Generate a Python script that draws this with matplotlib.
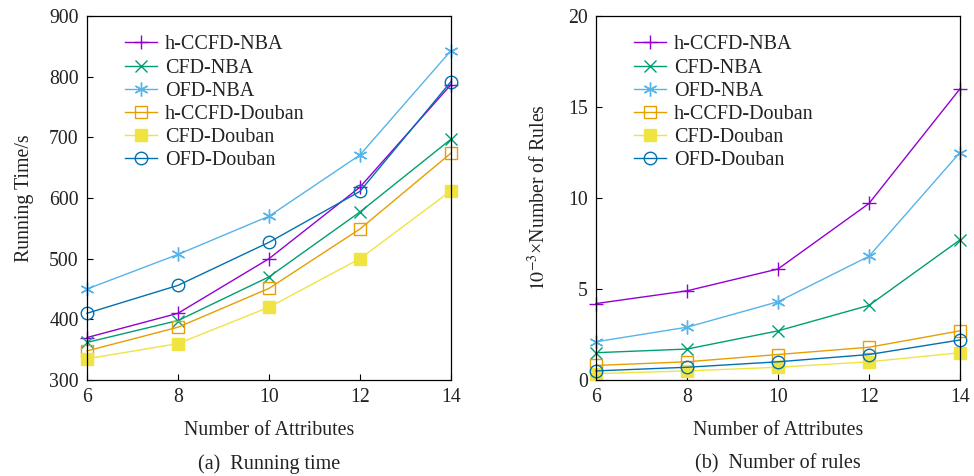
import matplotlib

matplotlib.use("Agg")
import matplotlib.pyplot as plt

plt.rcParams["font.family"] = ["Liberation Serif", "DejaVu Serif"]
plt.rcParams["mathtext.fontset"] = "stix"
plt.rcParams["text.color"] = "#222222"
plt.rcParams["axes.labelcolor"] = "#222222"
plt.rcParams["xtick.labelcolor"] = "#222222"
plt.rcParams["ytick.labelcolor"] = "#222222"

attributes = [6, 8, 10, 12, 14]
series_names = ["h-CCFD-NBA", "CFD-NBA", "OFD-NBA", "h-CCFD-Douban", "CFD-Douban", "OFD-Douban"]

# (a) running time, seconds
time_hccfd_nba = [370, 410, 500, 618, 787]
time_cfd_nba = [362, 398, 470, 577, 697]
time_ofd_nba = [450, 507, 570, 671, 843]
time_hccfd_douban = [348, 387, 451, 549, 674]
time_cfd_douban = [335, 360, 420, 500, 612]
time_ofd_douban = [410, 456, 527, 611, 792]

# (b) number of rules, x1e-3
rules_hccfd_nba = [4.2, 4.9, 6.1, 9.7, 16.0]
rules_cfd_nba = [1.5, 1.7, 2.7, 4.1, 7.7]
rules_ofd_nba = [2.1, 2.9, 4.3, 6.8, 12.5]
rules_hccfd_douban = [0.8, 1.0, 1.4, 1.8, 2.7]
rules_cfd_douban = [0.35, 0.5, 0.7, 1.0, 1.5]
rules_ofd_douban = [0.5, 0.7, 1.0, 1.4, 2.2]

styles = [
    dict(color="#9400D3", marker="+", mfc="none", ms=10, mew=1.0),
    dict(color="#009E73", marker="x", mfc="none", ms=8, mew=1.0),
    dict(color="#56B4E9", marker=(6, 2, 0), mfc="none", ms=10, mew=1.0),
    dict(color="#E69F00", marker="s", mfc="none", ms=9, mew=1.0),
    dict(color="#F0E442", marker="s", ms=8, mew=1.0),
    dict(color="#0072B2", marker="o", mfc="none", ms=9, mew=1.0),
]


def draw_panel(ax, data, ylim, yticks, ylabel, caption, ylabel_pad):
    for name, values, st in zip(series_names, data, styles):
        ax.plot(attributes, values, lw=1.0, label=name, clip_on=False, **st)
    ax.set_xlim(6, 14)
    ax.set_ylim(*ylim)
    ax.set_xticks(attributes)
    ax.set_yticks(yticks)
    ax.tick_params(direction="in", labelsize=14.2, length=4, width=0.8, pad=6)
    for sp in ax.spines.values():
        sp.set_linewidth(0.9)
    ax.set_xlabel("Number of Attributes", fontsize=14.3, labelpad=10)
    ax.set_ylabel(ylabel, fontsize=14.3, labelpad=ylabel_pad)
    ax.text(0.5, -0.23, caption, transform=ax.transAxes, ha="center",
            va="center", fontsize=14.5)
    ax.legend(loc="upper left", bbox_to_anchor=(0.07, 0.98), frameon=False,
              fontsize=14.5, handlelength=1.6, handletextpad=0.4,
              labelspacing=0.2, borderaxespad=0.2)


fig = plt.figure(figsize=(9.74, 4.76), dpi=100)
ax1 = fig.add_axes([87 / 974, 96 / 476, 364 / 974, 364 / 476])
ax2 = fig.add_axes([596 / 974, 96 / 476, 364 / 974, 364 / 476])

draw_panel(
    ax1,
    [time_hccfd_nba, time_cfd_nba, time_ofd_nba, time_hccfd_douban, time_cfd_douban, time_ofd_douban],
    (300, 900), range(300, 901, 100), "Running Time/s", "(a)  Running time", 11,
)
draw_panel(
    ax2,
    [rules_hccfd_nba, rules_cfd_nba, rules_ofd_nba, rules_hccfd_douban, rules_cfd_douban, rules_ofd_douban],
    (0, 20), range(0, 21, 5), r"$10^{-3}$×Number of Rules", "(b)  Number of rules", 13,
)

fig.savefig("out.png", dpi=100)
